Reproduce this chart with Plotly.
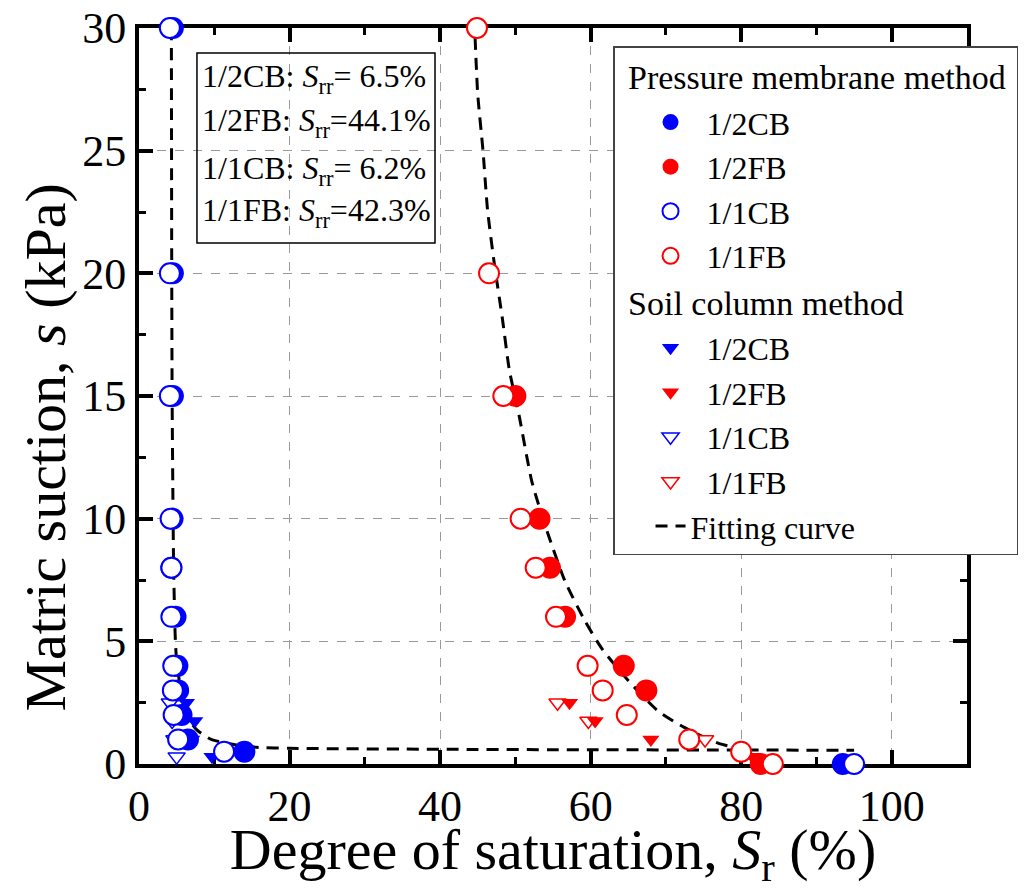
import plotly.graph_objects as go

# ---------------- data ----------------
# Pressure membrane method
pm_12CB_x = [4.5, 4.5, 4.5, 4.45, 4.3, 4.85, 5.1, 5.2, 5.65, 6.5, 14.0, 93.5]
pm_12CB_s = [30, 20, 15, 10, 8, 6, 4, 3, 2, 1, 0.5, 0]
pm_12FB_x = [50.0, 53.2, 54.6, 56.6, 64.4, 67.4, 82.6]
pm_12FB_s = [15, 10, 8, 6, 4, 3, 0]
pm_11CB_x = [4.1, 4.1, 4.1, 4.2, 4.3, 4.3, 4.55, 4.5, 4.6, 5.2, 11.3, 95.0]
pm_11CB_s = [30, 20, 15, 10, 8, 6, 4, 3, 2, 1, 0.5, 0]
pm_11FB_x = [44.9, 46.5, 48.4, 50.7, 52.7, 55.4, 59.6, 61.6, 64.8, 73.1, 80.0, 84.2]
pm_11FB_s = [30, 20, 15, 10, 8, 6, 4, 3, 2, 1, 0.5, 0]

# Soil column method
sc_12CB_x = [6.3, 7.4, 7.0, 9.7]
sc_12CB_s = [2.5, 1.75, 1.0, 0.3]
sc_12FB_x = [57.2, 60.6, 68.0, 81.5]
sc_12FB_s = [2.5, 1.75, 1.0, 0.3]
sc_11CB_x = [4.1, 4.4, 4.7, 5.0]
sc_11CB_s = [2.5, 1.75, 1.0, 0.3]
sc_11FB_x = [55.6, 59.7, 75.2]
sc_11FB_s = [2.5, 1.75, 1.0]

# Fitting curves
fit_CB_x = [4.3, 4.35, 4.4, 4.5, 4.6, 4.8, 4.95, 5.35, 6.1, 7.65, 9.6, 13.1, 15.6, 20, 40, 60, 80, 95]
fit_CB_s = [30, 20, 15, 11, 8, 5.3, 4.4, 3.4, 2.1, 1.4, 1.0, 0.77, 0.68, 0.64, 0.6, 0.58, 0.57, 0.56]
fit_FB_x = [44.65, 45.0, 45.7, 46.3, 47.2, 48.3, 49.2, 50.5, 52.2, 54.2, 56.6, 59.3, 61.5, 65.0, 69.0, 72.5, 77.0, 80.5]
fit_FB_s = [29.6, 27.3, 25, 22.6, 20.4, 18.1, 16.06, 14.2, 11.5, 9.5, 7.45, 5.8, 4.7, 3.4, 2.15, 1.48, 0.84, 0.6]

srr_labels = ["1/2CB", "1/2FB", "1/1CB", "1/1FB"]
srr_values = ["= 6.5%", "=44.1%", "= 6.2%", "=42.3%"]

# ---------------- styling ----------------
BLUE = "#0000FF"
RED = "#FF0000"
FONT = "Liberation Serif, Times New Roman, Times, serif"
CIRC = 22
TRI = 15
NB = "\u00a0\u00a0"   # extra gap between legend symbol and label

fig = go.Figure()

# fitting curves (drawn first, beneath markers)
fig.add_trace(go.Scatter(x=fit_CB_x, y=fit_CB_s, mode="lines", name="Fitting curve",
                         line=dict(color="black", width=3, dash="12px,8px", shape="spline", smoothing=0.6),
                         legendgroup="fit", legendrank=20, cliponaxis=False))
fig.add_trace(go.Scatter(x=fit_FB_x, y=fit_FB_s, mode="lines", name="Fitting curve",
                         line=dict(color="black", width=3, dash="12px,8px", shape="spline", smoothing=0.6),
                         legendgroup="fit", showlegend=False, cliponaxis=False))

# soil column: open triangles under filled triangles
fig.add_trace(go.Scatter(x=sc_11CB_x, y=sc_11CB_s, mode="markers", name=NB + "1/1CB",
                         marker=dict(symbol="triangle-down", size=TRI, color="white",
                                     line=dict(color=BLUE, width=1.5)),
                         legendgroup="sc", legendgrouptitle_text="\u00a0Soil column method",
                         legendrank=13, cliponaxis=False))
fig.add_trace(go.Scatter(x=sc_11FB_x, y=sc_11FB_s, mode="markers", name=NB + "1/1FB",
                         marker=dict(symbol="triangle-down", size=TRI, color="white",
                                     line=dict(color=RED, width=1.5)),
                         legendgroup="sc", legendrank=14, cliponaxis=False))
fig.add_trace(go.Scatter(x=sc_12CB_x, y=sc_12CB_s, mode="markers", name=NB + "1/2CB",
                         marker=dict(symbol="triangle-down", size=TRI, color=BLUE, line=dict(width=0)),
                         legendgroup="sc", legendrank=11, cliponaxis=False))
fig.add_trace(go.Scatter(x=sc_12FB_x, y=sc_12FB_s, mode="markers", name=NB + "1/2FB",
                         marker=dict(symbol="triangle-down", size=TRI, color=RED, line=dict(width=0)),
                         legendgroup="sc", legendrank=12, cliponaxis=False))

# pressure membrane: filled circles under open circles
fig.add_trace(go.Scatter(x=pm_12CB_x, y=pm_12CB_s, mode="markers", name=NB + "1/2CB",
                         marker=dict(symbol="circle", size=CIRC, color=BLUE, line=dict(width=0)),
                         legendgroup="pm", legendgrouptitle_text="\u00a0Pressure membrane method",
                         legendrank=1, cliponaxis=False))
fig.add_trace(go.Scatter(x=pm_12FB_x, y=pm_12FB_s, mode="markers", name=NB + "1/2FB",
                         marker=dict(symbol="circle", size=CIRC, color=RED, line=dict(width=0)),
                         legendgroup="pm", legendrank=2, cliponaxis=False))
fig.add_trace(go.Scatter(x=pm_11CB_x, y=pm_11CB_s, mode="markers", name=NB + "1/1CB",
                         marker=dict(symbol="circle", size=CIRC - 2, color="white",
                                     line=dict(color=BLUE, width=2)),
                         legendgroup="pm", legendrank=3, cliponaxis=False))
fig.add_trace(go.Scatter(x=pm_11FB_x, y=pm_11FB_s, mode="markers", name=NB + "1/1FB",
                         marker=dict(symbol="circle", size=CIRC - 2, color="white",
                                     line=dict(color=RED, width=2)),
                         legendgroup="pm", legendrank=4, cliponaxis=False))

axis_common = dict(
    showline=True, linewidth=4, linecolor="black", mirror="allticks",
    ticks="inside", ticklen=14, tickwidth=4, tickcolor="black",
    showgrid=True, gridcolor="#9a9a9a", gridwidth=1, griddash="dash",
    zeroline=False, layer="below traces",
    tickfont=dict(family=FONT, size=44, color="black"),
)

fig.update_xaxes(range=[0, 110], tick0=0, dtick=20,
                 minor=dict(ticks="inside", ticklen=7, tickwidth=3, tickcolor="black", dtick=10, showgrid=False),
                 title=dict(text="Degree of saturation, <i>S</i><sub>r</sub> (%)",
                            font=dict(family=FONT, size=58, color="black"), standoff=2),
                 **axis_common)
fig.update_yaxes(range=[0, 30], tick0=0, dtick=5,
                 minor=dict(ticks="inside", ticklen=7, tickwidth=3, tickcolor="black", dtick=2.5, showgrid=False),
                 **axis_common)

annotations = [dict(text="Matric suction, <i>s</i> (kPa)", textangle=-90,
                    xref="paper", yref="paper", x=-0.1135, y=0.43, showarrow=False,
                    xanchor="center", yanchor="middle",
                    font=dict(family=FONT, size=58, color="black"))]
line_y = [0.932, 0.871, 0.807, 0.749]
for lab, val, yy in zip(srr_labels, srr_values, line_y):
    annotations.append(dict(text=f"{lab}: <i>S</i><sub>rr</sub>{val}",
                            xref="paper", yref="paper", x=0.074, y=yy,
                            xanchor="left", yanchor="middle", showarrow=False,
                            font=dict(family=FONT, size=32, color="black")))

fig.update_layout(
    width=1028, height=890,
    margin=dict(l=139, r=61, t=28, b=126, autoexpand=False),
    paper_bgcolor="white", plot_bgcolor="white",
    showlegend=True,
    legend=dict(x=0.5725, y=0.9755, xanchor="left", yanchor="top",
                bgcolor="white", bordercolor="#444444", borderwidth=1.5,
                font=dict(family=FONT, size=32, color="black"),
                grouptitlefont=dict(family=FONT, size=34, color="black"),
                traceorder="grouped", tracegroupgap=0, itemsizing="trace",
                indentation=36),
    annotations=annotations,
    shapes=[dict(type="rect", xref="paper", yref="paper", x0=0.070, x1=0.3575, y0=0.708, y1=0.966,
                 line=dict(color="black", width=1.5), fillcolor="rgba(0,0,0,0)", layer="above")],
)

fig.write_html("out.html")
